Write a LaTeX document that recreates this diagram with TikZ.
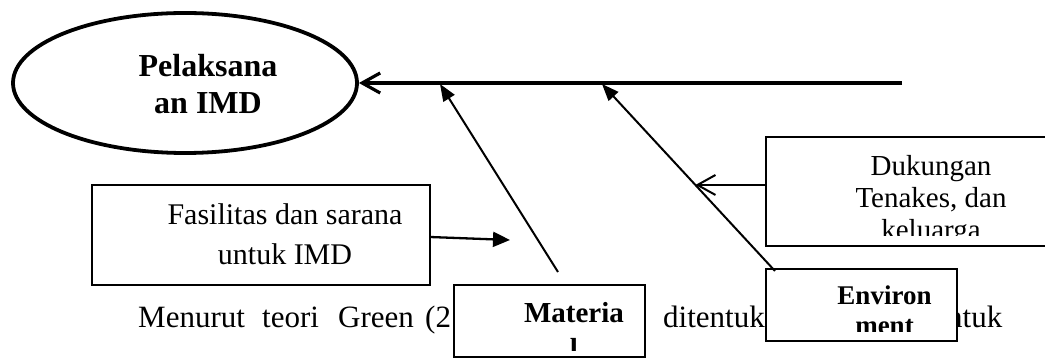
\documentclass[tikz,border=0pt]{standalone}
\usepackage{fontspec}
\setmainfont{Liberation Serif}
\usetikzlibrary{shapes.geometric,arrows.meta,calc}
\begin{document}
\begin{tikzpicture}[x=1pt,y=-1pt,
  frame/.style={draw, fill=white, line width=1.2pt, inner sep=0pt, outer sep=0pt},
  boxtext/.style={inner sep=0pt, align=center, anchor=north},
  bodytext/.style={inner sep=0pt, anchor=base west, font=\fontsize{31}{36}\selectfont},
  bone/.style={line width=2pt, -{Triangle[length=17pt,width=13pt]}},
  openarrow/.style={-{Straight Barb[length=18pt,width=20pt]}},
]
\useasboundingbox (0,0) rectangle (1045,358);

% running text of the page, partly covered by the boxes
\node[bodytext] (w1) at (138,327) {Menurut};
\node[bodytext] (w2) at (262,327) {teori};
\node[bodytext] (w3) at (338,327) {Green};
\node[bodytext] (w4) at (425,327) {(2};
\node[bodytext] (w5) at (663,327) {ditentuk};
\node[bodytext] (w6) at (947,327) {ntuk};

% head of the fishbone
\node[ellipse, draw, line width=3.8pt, minimum width=344pt, minimum height=140pt, inner sep=0pt] (pel) at (185,83) {};
\node[boxtext, font=\bfseries\fontsize{32}{37}\selectfont] (peltext) at (208,54) {Pelaksana\\an IMD};

% cause boxes
\node[frame, minimum width=338pt, minimum height=100pt] (fasbox) at (261,235) {};
\node[boxtext, font=\fontsize{30}{40}\selectfont] (fastext) at (285,203) {Fasilitas dan sarana\\untuk IMD};

\node[frame, minimum width=335pt, minimum height=109pt] (dukbox) at (933.5,191.5) {};
\begin{scope}
  \clip (dukbox.north west) rectangle ($(dukbox.south east)+(0,-10)$);
  \node[boxtext, font=\fontsize{29}{32}\selectfont] (duktext) at (931,155) {Dukungan\\Tenakes, dan\\keluarga};
\end{scope}

\node[frame, minimum width=191pt, minimum height=72pt] (envbox) at (861.5,305) {};
\begin{scope}
  \clip (envbox.north west) rectangle ($(envbox.south east)+(0,-9)$);
  \node[boxtext, font=\bfseries\fontsize{27}{30}\selectfont] (envtext) at (884.5,285.5) {Environ\\ment};
\end{scope}

\node[frame, minimum width=191pt, minimum height=72pt] (matbox) at (549.5,321) {};
\begin{scope}
  \clip (matbox.north west) rectangle ($(matbox.south east)+(0,-7)$);
  \node[boxtext, font=\bfseries\fontsize{29}{36}\selectfont] (mattext) at (574,302) {Materia\\l};
\end{scope}

% spine and bones
\coordinate (spine) at (902,83);
\coordinate (matTip) at (440,84);
\coordinate (envTip) at (602,84);
\coordinate (matTail) at ($(matbox.north)+(8.5,-13)$);
\coordinate (envTail) at ($(envbox.north west)+(9,2)$);
\coordinate (envHit) at ($(envTip)!0.54!(envTail)$);
\coordinate (fasTip) at (510,240);

\draw[line width=3.2pt, openarrow] (spine) -- (pel.east);
\draw[bone] (matTail) -- (matTip);
\draw[bone] (envTail) -- (envTip);
\draw[line width=2pt, openarrow] (dukbox.west |- envHit) -- (envHit);
\draw[line width=2.3pt, -{Triangle[length=17pt,width=15pt]}] ([yshift=-2pt]fasbox.east) -- (fasTip);
\end{tikzpicture}
\end{document}
